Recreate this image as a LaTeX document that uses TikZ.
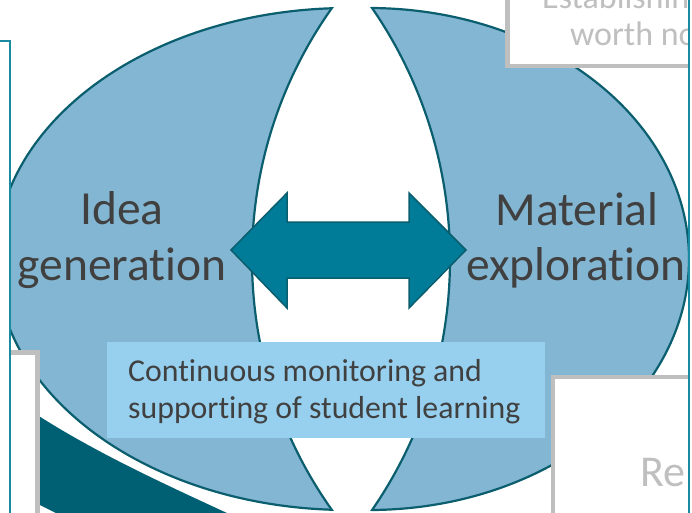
\documentclass[tikz,border=0pt]{standalone}
\usepackage{fontspec}
\setmainfont{Carlito}[Ligatures={NoCommon}]
\definecolor{ellfill}{HTML}{83B6D2}
\definecolor{ellline}{HTML}{0A5E6E}
\definecolor{arrowfill}{HTML}{007B98}
\definecolor{bandc}{HTML}{006073}
\definecolor{tboxc}{HTML}{96D0EE}
\definecolor{txtdark}{HTML}{404040}
\definecolor{grayln}{HTML}{BFBFBF}
\definecolor{framec}{HTML}{1A8AA0}
\begin{document}
\begin{tikzpicture}[x=1pt,y=-1pt,
  ell/.style={fill=ellfill, draw=ellline, line width=2.2pt},
  lensline/.style={draw=ellline, line width=2.2pt},
  arrowst/.style={fill=arrowfill, draw=ellline, line width=1.5pt, line join=miter},
  biglbl/.style={anchor=base, inner sep=0pt, text=txtdark, font=\fontsize{47.5}{56}\selectfont},
  smalllbl/.style={anchor=base west, inner sep=0pt, text=txtdark, font=\fontsize{31.8}{38}\selectfont},
  tbox/.style={fill=tboxc, draw=none},
  graybox/.style={fill=white, draw=grayln, line width=4.5pt},
  graytxt/.style={anchor=base west, inner sep=0pt, text=grayln},
  frame/.style={fill=white, draw=framec, line width=1.6pt}]
\useasboundingbox (0,0) rectangle (692,512);
\fill[white] (0,0) rectangle (692,512);
% dark band at the bottom left
\fill[bandc] (28,409) .. controls (90,450) and (160,482) .. (227,513) -- (56,513) -- (28,499) -- cycle;
% the two blue halves
\begin{scope}
  \clip (-30,-30) rectangle (352,540);
  \path[ell] (348,259) ellipse [x radius=352, y radius=251];
\end{scope}
\begin{scope}
  \clip (352,-30) rectangle (720,540);
  \path[ell] (369,259) ellipse [x radius=320, y radius=251];
\end{scope}
% white lens
\begin{scope}
  \clip (686,259) circle [radius=434];
  \fill[white] (7,259) circle [radius=443];
\end{scope}
\begin{scope}
  \clip (0,7.5) rectangle (692,510.5);
  \draw[lensline] (686,259) circle [radius=434];
  \draw[lensline] (7,259) circle [radius=443];
\end{scope}
% double arrow
\draw[arrowst] (231,250) -- (287,193) -- (287,222) -- (409,222) -- (409,193) -- (466,250)
  -- (409,308) -- (409,278) -- (287,278) -- (287,308) -- cycle;
% labels
\node[biglbl] (idea) at (122,224) {Idea};
\node[biglbl] (gen) at (122,280) {generation};
\node[biglbl] (mat) at (577,225) {Material};
\node[biglbl] (expl) at (576,280) {exploration};
% monitoring box
\fill[tbox] (107,342) rectangle (545,438);
\node[smalllbl] (mon1) at (128,381) {Continuous monitoring and};
\node[smalllbl] (mon2) at (128,418.5) {supporting of student learning};
% grey boxes
\filldraw[graybox] (507.5,-20) rectangle (720,66);
\node[graytxt, font=\fontsize{34}{40}\selectfont] (est) at (542,8) {Establishing};
\node[graytxt, font=\fontsize{34}{40}\selectfont] (worth) at (570,45) {worth no};
\filldraw[graybox] (553,377) rectangle (720,540);
\node[graytxt, font=\fontsize{44}{52}\selectfont] (re) at (640,486) {Re};
\filldraw[graybox] (-20,352.5) rectangle (37.5,540);
% frame boxes
\filldraw[frame] (-20,41) rectangle (10,540);
\filldraw[frame] (689,-20) rectangle (720,540);
\end{tikzpicture}
\end{document}
